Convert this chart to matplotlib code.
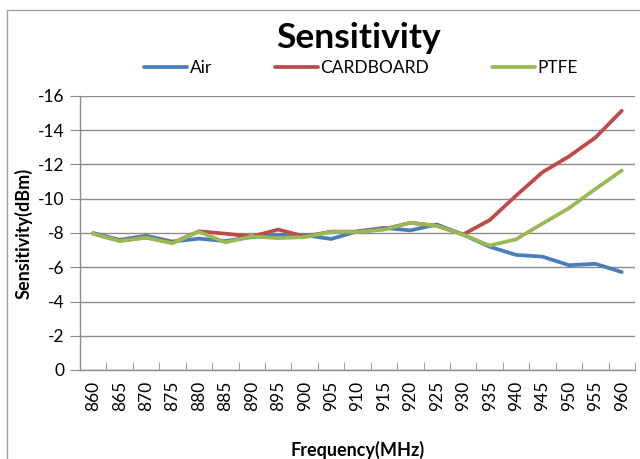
import matplotlib
matplotlib.use("Agg")
import matplotlib.pyplot as plt
from matplotlib.patches import Rectangle
import numpy as np

freqs = [860, 865, 870, 875, 880, 885, 890, 895, 900, 905, 910,
         915, 920, 925, 930, 935, 940, 945, 950, 955, 960]
air = [-8.0, -7.6, -7.84, -7.5, -7.67, -7.53, -7.76, -7.88, -7.88, -7.65, -8.1,
       -8.3, -8.15, -8.5, -7.9, -7.2, -6.72, -6.62, -6.12, -6.2, -5.72]
cardboard = [-7.96, -7.55, -7.74, -7.42, -8.1, -7.96, -7.8, -8.2, -7.8, -8.08, -8.08,
             -8.22, -8.6, -8.42, -7.92, -8.75, -10.18, -11.55, -12.47, -13.57, -15.14]
ptfe = [-7.96, -7.53, -7.73, -7.4, -8.08, -7.45, -7.8, -7.7, -7.76, -8.06, -8.06,
        -8.2, -8.6, -8.42, -7.9, -7.27, -7.63, -8.55, -9.45, -10.57, -11.65]
yticks = [0, -2, -4, -6, -8, -10, -12, -14, -16]

plt.rcParams['font.family'] = ['Lato', 'DejaVu Sans']

W, H = 640, 459
fig = plt.figure(figsize=(W / 100, H / 100), dpi=100)

# chart border
fig.patches.append(Rectangle((7 / W, -0.1), 2, 1.1 - 10 / H, transform=fig.transFigure,
                             fill=False, edgecolor='#a0a0a0', linewidth=1.0))

ax = fig.add_axes([80 / W, (H - 370) / H, 555 / W, 274 / H])
x = np.arange(len(freqs))
ax.plot(x, air, color='#4A7EBB', lw=2.7, label='Air', solid_capstyle='round', solid_joinstyle='round', zorder=2)
ax.plot(x, cardboard, color='#BE4B48', lw=2.7, label='CARDBOARD', solid_capstyle='round', solid_joinstyle='round', zorder=3)
ax.plot(x, ptfe, color='#98B954', lw=2.7, label='PTFE', solid_capstyle='round', solid_joinstyle='round', zorder=4)

ax.set_xlim(-0.5, len(freqs) - 0.5)
ax.set_ylim(0, -16)
ax.set_yticks(yticks)
ax.set_yticklabels([str(v) for v in yticks], fontsize=12.5)
ax.yaxis.grid(True, color='#8c8c8c', linewidth=1.0)
ax.set_axisbelow(True)

ax.set_xticks(x)
ax.set_xticklabels([str(f) for f in freqs], rotation=90, fontsize=12.5)
ax.set_xticks(np.arange(-0.5, len(freqs), 1.0), minor=True)
ax.tick_params(axis='x', which='major', length=0, pad=8)
ax.tick_params(axis='x', which='minor', length=6, direction='in', color='#8c8c8c')
ax.tick_params(axis='y', length=7, direction='out', color='#8c8c8c', pad=4)

for s in ['top', 'right']:
    ax.spines[s].set_visible(False)
for s in ['left', 'bottom']:
    ax.spines[s].set_color('#8c8c8c')
    ax.spines[s].set_linewidth(1.0)

ax.set_xlabel('Frequency(MHz)', fontsize=13, fontweight='bold', labelpad=21)
ax.set_ylabel('Sensitivity(dBm)', fontsize=13, fontweight='bold', labelpad=4)

fig.text(358 / W, 1 - 38 / H, 'Sensitivity', ha='center', va='center',
         fontsize=25.5, fontweight='bold')

handles, labels = ax.get_legend_handles_labels()
fig.legend(handles, labels, loc='center', bbox_to_anchor=(361 / W, 1 - 68 / H), ncol=3,
           frameon=False, fontsize=12.5, handlelength=2.5, handletextpad=0.15,
           columnspacing=3.6)

fig.savefig('out.png', dpi=100)
